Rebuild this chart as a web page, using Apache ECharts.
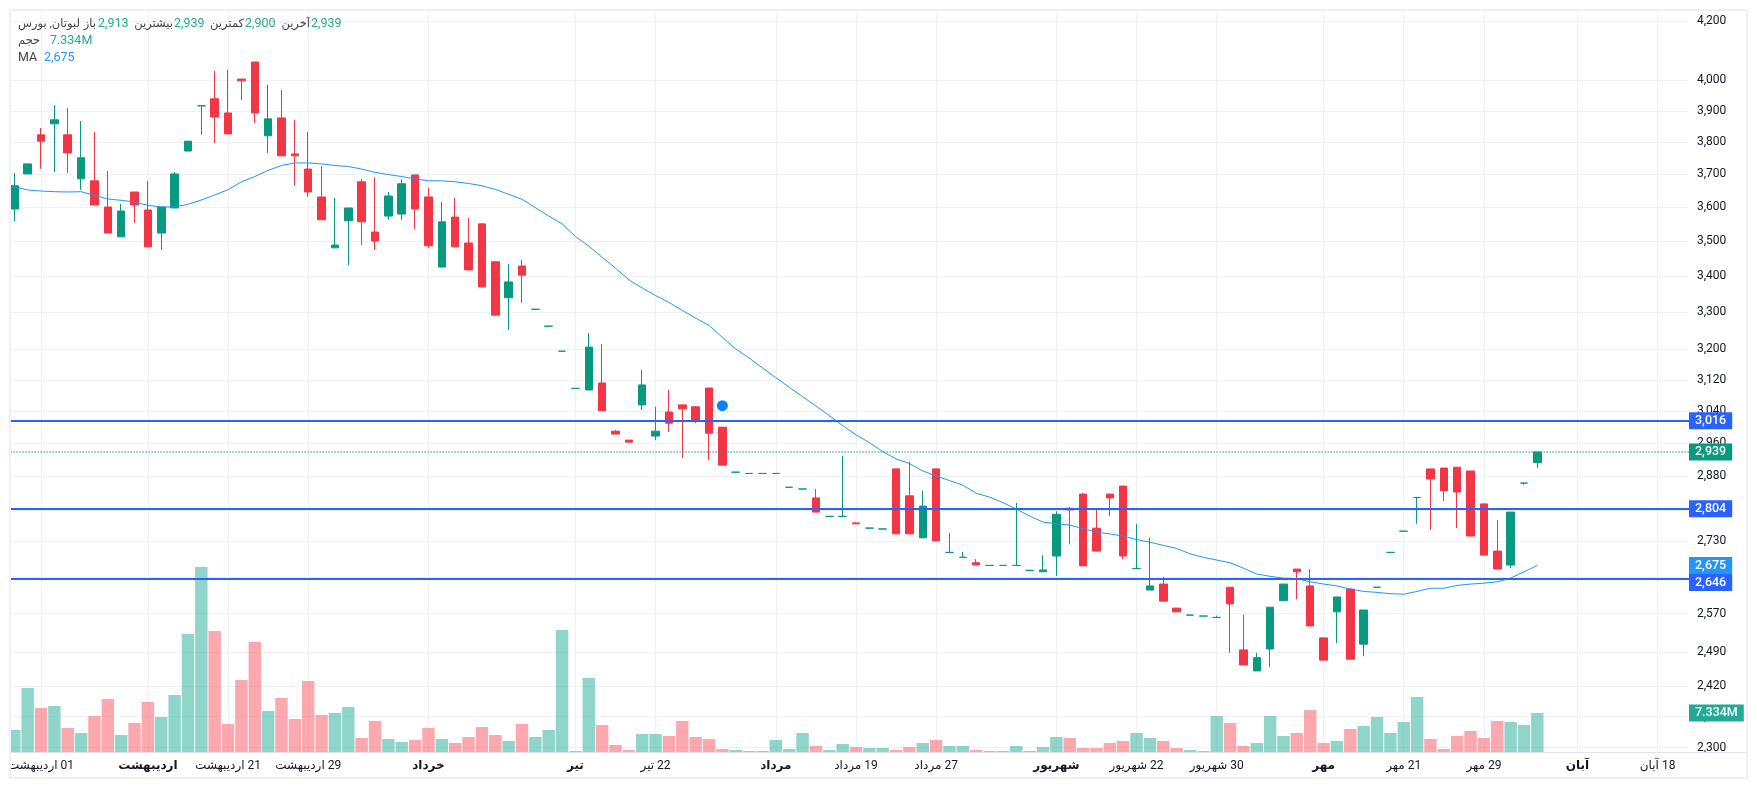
<!DOCTYPE html>
<html>
<head>
<meta charset="utf-8">
<title>لبوتان</title>
<script src="https://cdn.jsdelivr.net/npm/echarts@6/dist/echarts.min.js"></script>
<style>
  html, body { margin: 0; padding: 0; background: #fff; }
  #chart { width: 1757px; height: 790px; }
</style>
</head>
<body>
<div id="chart"></div>
<script>
// [open, close, low, high]
var candles = [
  [3595,3665,3558,3704],[3701,3732,3701,3732],[3823,3803,3717,3845],[3858,3871,3707,3919],[3823,3766,3704,3909],
  [3686,3751,3652,3867],[3680,3607,3607,3832],[3601,3524,3524,3710],[3513,3589,3513,3610],[3646,3607,3554,3646],
  [3592,3484,3484,3680],[3524,3601,3475,3601],[3598,3701,3598,3707],[3772,3803,3772,3803],[3916,3916.2,3823,3916.2],
  [3939,3880,3797,4031],[3893,3826,3826,4035],[4004,3998,3935,4004],[4061,3893,3861,4061],[3820,3874,3766,3985],
  [3877,3757,3757,3968],[3763,3757,3665,3871],[3716,3646,3631,3832],[3631,3563,3563,3725],[3481,3489,3481,3628],
  [3560,3598,3432,3598],[3677,3557,3489,3686],[3527,3501,3475,3689],[3574,3634,3563,3646],[3580,3671,3563,3683],
  [3698,3595,3536,3698],[3631,3487,3481,3659],[3426,3557,3426,3616],[3571,3484,3484,3628],[3495,3418,3418,3568],
  [3551,3370,3370,3551],[3441,3292,3292,3441],[3340,3384,3252,3435],[3429,3403,3325,3446],[3308,3308.2,3308,3308.2],
  [3262,3262.2,3262,3262.2],[3195,3195.2,3195,3195.2],[3098,3098.2,3098,3098.2],[3094,3206,3094,3244],[3112,3041,3041,3214],
  [2990,2983,2983,2993],[2968,2963,2963,2968],[3056,3107,3043,3146],[2978,2990,2968,3051],[3038,3010,2988,3094],
  [3056,3046,2924,3056],[3051,3018,3010,3053],[3099,2985,2919,3099],[3000,2907,2907,3000],[2890,2890.2,2890,2890.2],
  [2887,2887.2,2887,2887.2],[2887,2887.2,2887,2887.2],[2887,2887.2,2887,2887.2],[2854,2854.2,2854,2854.2],[2850,2850.2,2850,2850.2],
  [2829,2796,2796,2850],[2786,2786.2,2786,2786.2],[2786,2786.2,2785,2929],[2771,2769,2769,2773],[2759,2759.2,2759,2759.2],
  [2757,2757.2,2757,2757.2],[2898,2746,2746,2898],[2834,2746,2746,2915],[2737,2810,2737,2846],[2898,2730,2730,2898],
  [2704,2704.2,2704,2748],[2693,2693.2,2693,2705],[2681,2676,2676,2689],[2675,2675.2,2675,2675.2],[2675,2675.2,2675,2675.2],
  [2675,2675.2,2675,2817],[2664,2664.2,2664,2664.2],[2661,2665,2661,2698],[2696,2791,2652,2798],[2805,2801,2722,2808],
  [2838,2674,2674,2841],[2759,2707,2707,2805],[2838,2829,2787,2838],[2857,2696,2689,2857],[2668,2668.2,2668,2769],
  [2621,2630,2621,2737],[2634,2597,2597,2650],[2582,2574,2574,2582],[2567,2567.2,2567,2567.2],[2565,2565.2,2565,2565.2],
  [2562,2562.2,2562,2566],[2627,2591,2488,2627],[2494,2463,2463,2568],[2451,2478,2451,2488],[2496,2584,2459,2584],
  [2598,2634,2598,2634],[2667,2661,2601,2667],[2630,2544,2544,2667],[2519,2473,2473,2519],[2574,2606,2508,2606],
  [2623,2475,2475,2625],[2506,2578,2481,2578],[2627,2627.2,2627,2627.2],[2704,2704.2,2704,2704.2],[2752,2752.2,2752,2752.2],
  [2830,2830.2,2769,2830.2],[2898,2874,2755,2898],[2900,2846,2822,2900],[2902,2843,2759,2902],[2893,2741,2741,2893],
  [2815,2698,2698,2815],[2707,2667,2667,2778],[2676,2796,2669,2796],[2864,2864.2,2860,2864.2],[2913,2939,2900,2939]
];

var volumes = [
  4.14,12.03,8.27,8.65,4.51,3.57,6.77,9.96,3.20,5.45,9.40,6.58,10.72,22.18,34.78,22.75,5.26,13.54,20.68,7.71,
  10.15,6.20,13.35,6.96,7.33,8.46,2.63,5.83,2.44,1.88,2.26,4.51,2.44,1.69,2.82,4.70,3.20,2.07,5.26,2.82,
  4.14,22.94,0.19,13.91,5.08,1.32,0.38,3.38,3.38,3.01,5.83,2.82,2.44,0.56,0.38,0.19,0.19,2.26,0.56,3.57,
  1.13,0.38,1.50,0.94,0.75,0.75,0.38,0.94,1.69,2.26,1.13,1.13,0.38,0.19,0.19,1.13,0.19,0.94,2.82,2.63,
  0.75,0.75,1.69,2.07,3.57,2.63,2.07,0.75,0.38,0.19,6.77,5.45,1.13,1.69,6.77,3.01,3.57,7.90,1.69,2.07,
  4.32,4.89,6.58,3.57,5.64,10.34,2.44,0.56,3.01,3.95,2.63,5.83,5.64,5.08,7.334
];

var maValues = [
  3662,3652,3649,3647,3646,3647,3636,3625,3621,3616,3606,3601,3601,3609,3622,3637,3653,3677,3693,3712,
  3727,3735,3735,3732,3727,3724,3716,3706,3699,3693,3686,3680,3680,3677,3672,3665,3654,3639,3624,3599,
  3574,3551,3514,3486,3454,3423,3390,3367,3346,3327,3305,3284,3264,3232,3201,3177,3151,3126,3101,3077,
  3053,3029,3004,2981,2962,2940,2922,2911,2893,2881,2870,2859,2840,2831,2818,2803,2787,2773,2769,2766,
  2758,2750,2746,2741,2733,2727,2720,2713,2701,2693,2687,2681,2669,2656,2651,2647,2646,2639,2634,2630,
  2623,2618,2616,2613,2612,2618,2625,2625,2631,2634,2636,2639,2647,2661,2675
];

var priceTicks = [4200,4000,3900,3800,3700,3600,3500,3400,3300,3200,3120,3040,2960,2880,2800,2730,2650,2570,2490,2420,2360,2300];

// slot index on the time axis -> label, months in bold
var timeSlots = [2,10,16,22,31,42,48,57,63,69,78,84,90,98,104,110,117,123];
var timeLabels = ['01 اردیبهشت','اردیبهشت','21 اردیبهشت','29 اردیبهشت','خرداد','تیر','22 تیر','مرداد','19 مرداد','27 مرداد','شهریور','22 شهریور','30 شهریور','مهر','21 مهر','29 مهر','آبان','18 آبان'];
var monthNames = ['اردیبهشت','خرداد','تیر','مرداد','شهریور','مهر','آبان'];
var slotCount = 126;

var supportLevels = [3016, 2804, 2646];
var lastPrice = 2939;
var lastOpen = 2913;
var lastLow = 2900;
var lastMa = 2675;
var lastVolume = 7.334;
var dotIndex = 53;
var dotPrice = 3054;

var GREEN = '#089981';
var RED = '#f23645';
var BLUE = '#2962ff';
var MA_BLUE = '#2196f3';
var TEAL = '#22ab94';
var GREY = '#444';
var TEXT = '#131722';
var GRID = '#f0f1f5';
var FONT = 'Roboto, "DejaVu Sans", sans-serif';
var NO_LINE = { color: 'rgba(0,0,0,0)', width: 0 };

var categories = [];
for (var s = 0; s < slotCount; s++) categories.push(String(s));

function fmt(v) {
    return v.toLocaleString('en-US');
}

function priceTag(value, color, offsetY) {
    return {
        show: true,
        position: 'end',
        distance: -2,
        offset: [0, offsetY || 0],
        formatter: fmt(value),
        color: '#fff',
        backgroundColor: color,
        fontFamily: FONT,
        fontSize: 12.5,
        fontWeight: 500,
        lineHeight: 12,
        padding: [3, 6, 2, 6],
        align: 'left',
        verticalAlign: 'middle'
    };
}

function levelLine(value, offsetY) {
    return {
        yAxis: value,
        lineStyle: { color: BLUE, width: 2, type: 'solid' },
        label: priceTag(value, BLUE, offsetY)
    };
}

function headerText(x, y, text, color, align, size) {
    return {
        type: 'text',
        z: 100,
        x: x,
        y: y,
        style: {
            text: text,
            fill: color,
            font: (size || 12.5) + 'px ' + FONT,
            textAlign: align || 'left',
            textVerticalAlign: 'middle'
        }
    };
}

var option = {
    animation: false,
    backgroundColor: '#fff',
    grid: [
        { left: 7.62, top: 10, width: 1683.36, height: 742 },
        { left: 7.62, top: 539.2, width: 1683.36, height: 212.8 }
    ],
    xAxis: [
        {
            type: 'category',
            gridIndex: 0,
            data: categories,
            boundaryGap: true,
            axisLine: { show: true, lineStyle: { color: '#e0e3eb', width: 1 } },
            axisTick: { show: false },
            axisLabel: {
                margin: 8,
                hideOverlap: false,
                interval: function (i) { return timeSlots.indexOf(i) >= 0; },
                formatter: function (v, i) {
                    var k = timeSlots.indexOf(i);
                    if (k < 0) return '';
                    var t = timeLabels[k];
                    // rtl mark keeps the day number on the right of the month
                    return monthNames.indexOf(t) >= 0 ? '{b|' + t + '}' : '\u200f' + t;
                },
                fontFamily: FONT,
                fontSize: 12,
                color: TEXT,
                rich: { b: { fontFamily: FONT, fontSize: 12, fontWeight: 'bold', color: TEXT } }
            },
            splitLine: {
                show: true,
                alignWithLabel: true,
                interval: function (i) { return timeSlots.indexOf(i) >= 0; },
                lineStyle: { color: GRID, width: 1 }
            }
        },
        {
            type: 'category',
            gridIndex: 1,
            data: categories,
            boundaryGap: true,
            show: false
        }
    ],
    yAxis: [
        {
            type: 'log',
            gridIndex: 0,
            position: 'right',
            min: 2291.6,
            max: 4240,
            axisLine: { show: false },
            // customValues here also drive the split lines
            axisTick: { show: false, customValues: priceTicks },
            axisLabel: {
                customValues: priceTicks,
                margin: 6,
                fontFamily: FONT,
                fontSize: 12,
                color: TEXT,
                formatter: function (v) { return fmt(Math.round(v)); }
            },
            splitLine: {
                show: true,
                lineStyle: { color: GRID, width: 1 }
            }
        },
        {
            type: 'value',
            gridIndex: 1,
            position: 'right',
            min: 0,
            max: 40,
            show: false,
            splitLine: { show: false }
        }
    ],
    series: [
        {
            name: 'حجم',
            type: 'bar',
            xAxisIndex: 1,
            yAxisIndex: 1,
            z: 1,
            barCategoryGap: '7%',
            data: volumes.map(function (v, i) {
                var up = candles[i][1] >= candles[i][0];
                return {
                    value: v,
                    itemStyle: { color: up ? 'rgba(34,171,148,0.5)' : 'rgba(247,82,95,0.5)' }
                };
            }),
            markLine: {
                silent: true,
                symbol: 'none',
                data: [{
                    yAxis: lastVolume,
                    lineStyle: NO_LINE,
                    label: Object.assign(priceTag(lastVolume, TEAL), { formatter: lastVolume + 'M' })
                }]
            }
        },
        {
            name: 'قیمت',
            type: 'candlestick',
            xAxisIndex: 0,
            yAxisIndex: 0,
            z: 3,
            barWidth: 8,
            data: candles,
            itemStyle: {
                color: GREEN,
                color0: RED,
                borderColor: GREEN,
                borderColor0: RED,
                borderWidth: 1
            },
            markLine: {
                silent: true,
                symbol: 'none',
                data: [
                    {
                        yAxis: lastMa,
                        lineStyle: NO_LINE,
                        label: priceTag(lastMa, MA_BLUE)
                    },
                    {
                        yAxis: lastPrice,
                        lineStyle: { color: GREEN, width: 1.5, type: [1, 2] },
                        label: priceTag(lastPrice, GREEN)
                    },
                    levelLine(supportLevels[0], 0),
                    levelLine(supportLevels[1], 0),
                    levelLine(supportLevels[2], 4)
                ]
            },
            markPoint: {
                silent: true,
                symbol: 'circle',
                symbolSize: 11,
                itemStyle: { color: '#0a84f5' },
                label: { show: false },
                data: [{ coord: [dotIndex, dotPrice] }]
            }
        },
        {
            name: 'MA',
            type: 'line',
            xAxisIndex: 0,
            yAxisIndex: 0,
            z: 4,
            showSymbol: false,
            data: maValues,
            lineStyle: { color: MA_BLUE, width: 1 }
        }
    ],
    graphic: [
        // outside of the frame, hides what the band axis leaves to the left
        { type: 'rect', z: 90, shape: { x: 0, y: 0, width: 10, height: 790 }, style: { fill: '#fff' } },
        // gap between the plot and the price scale
        { type: 'rect', z: 1, shape: { x: 1689, y: 10, width: 6, height: 741 }, style: { fill: '#fff' } },
        { type: 'line', z: 1, shape: { x1: 1691, y1: 752.5, x2: 1747, y2: 752.5 }, style: { stroke: '#e0e3eb', lineWidth: 1 } },
        { type: 'rect', z: 91, shape: { x: 10, y: 10, width: 1737, height: 768 }, style: { fill: 'none', stroke: '#f0f0f5', lineWidth: 2 } },
        headerText(18, 24, 'لبوتان, بورس', GREY, 'left', 11.5),
        headerText(96, 24, 'باز', GREY, 'right', 11.5),
        headerText(98, 24, fmt(lastOpen), TEAL),
        headerText(173, 24, 'بیشترین', GREY, 'right', 11.5),
        headerText(174, 24, fmt(lastPrice), TEAL),
        headerText(244, 24, 'کمترین', GREY, 'right', 11.5),
        headerText(245, 24, fmt(lastLow), TEAL),
        headerText(310, 24, 'آخرین', GREY, 'right', 11.5),
        headerText(311, 24, fmt(lastPrice), TEAL),
        headerText(18, 41, 'حجم', GREY, 'left', 11.5),
        headerText(50, 41, lastVolume + 'M', TEAL),
        headerText(18, 58, 'MA', GREY),
        headerText(44, 58, fmt(lastMa), MA_BLUE)
    ]
};

var chart = echarts.init(document.getElementById('chart'));
chart.setOption(option);
</script>
</body>
</html>
